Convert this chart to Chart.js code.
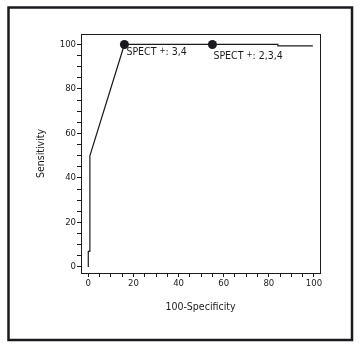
<!DOCTYPE html>
<html>
<head>
<meta charset="utf-8">
<title>ROC curve</title>
<script src="https://cdn.jsdelivr.net/npm/chart.js@4.4.1/dist/chart.umd.min.js"></script>
<style>
  html, body { margin: 0; padding: 0; background: #fff; }
  canvas { display: block; }
</style>
</head>
<body>
<canvas id="graph-roc" width="360" height="347"></canvas>
<script>

// ROC curve.
const specificity = [0, 0, 0.7, 0.7, 16, 55, 84, 84, 99.5];
const sensitivity = [0, 7, 7, 50, 100, 100, 100, 99.4, 99.4];

// Marked thresholds.
const markX = [16, 55];
const markY = [100, 100];
const markLabels = ['3,4', '2,3,4'];

const xTitle = '100-Specificity';
const yTitle = 'Sensitivity';

const ink = '#1c1a1e';
const narrow = "'Liberation Sans Narrow', 'Arial Narrow', 'DejaVu Sans Condensed', sans-serif";


const frame = {
  id: 'frame',
  beforeDraw(chart) {
    /*
     * White page, outer box.
     */
    const ctx = chart.ctx;
    ctx.save();
    ctx.fillStyle = '#fff';
    ctx.fillRect(0, 0, chart.width, chart.height);
    ctx.strokeStyle = ink;
    ctx.lineWidth = 2.5;
    ctx.strokeRect(8.5, 7.5, 343.5, 332.5);
    ctx.restore();
  },
  afterDraw(chart) {
    /*
     * Plot box and the SPECT labels next to the markers.
     */
    const ctx = chart.ctx;
    const area = chart.chartArea;
    const x = chart.scales.x;
    const y = chart.scales.y;
    ctx.save();
    ctx.strokeStyle = ink;
    ctx.lineWidth = 1;
    ctx.strokeRect(area.left + 0.5, area.top + 0.5, area.right - area.left, area.bottom - area.top);

    ctx.fillStyle = ink;
    ctx.textBaseline = 'middle';
    ctx.textAlign = 'left';
    const shifts = [[2, 8], [1, 12]];
    markLabels.forEach((label, i) => {
      let px = x.getPixelForValue(markX[i]) + shifts[i][0];
      const py = y.getPixelForValue(markY[i]) + shifts[i][1];
      ctx.font = '10.5px ' + narrow;
      ctx.fillText('SPECT ', px, py);
      px += ctx.measureText('SPECT ').width;
      ctx.font = '8px ' + narrow;
      ctx.fillText('+', px, py - 2);
      px += ctx.measureText('+').width;
      ctx.font = '10.5px ' + narrow;
      ctx.fillText(': ' + label, px, py);
    });
    ctx.restore();
  }
};


function keepTicks(scale) {
  scale.ticks = scale.ticks.filter((t) => t.value >= 0 && t.value <= 100);
}


const ctx = document.getElementById('graph-roc');
const graph = new Chart(ctx, {
  type: 'scatter',
  data: {
    datasets: [{
      label: 'ROC',
      data: specificity.map((v, i) => ({ x: v, y: sensitivity[i] })),
      showLine: true,
      borderColor: ink,
      borderWidth: 1.2,
      pointRadius: 0,
      fill: false,
    }, {
      label: 'SPECT',
      data: markX.map((v, i) => ({ x: v, y: markY[i] })),
      backgroundColor: ink,
      borderColor: ink,
      pointRadius: 4.5,
      borderWidth: 0,
    }]
  },
  options: {
    responsive: false,
    animation: false,
    devicePixelRatio: 1,
    layout: {
      padding: { left: 0, top: 34, right: 40, bottom: 0 },
    },
    plugins: {
      legend: { display: false },
      tooltip: { enabled: false },
    },
    scales: {
      x: {
        type: 'linear',
        min: -3.23,
        max: 102.66,
        afterFit: (scale) => { scale.height = 74; },
        afterBuildTicks: keepTicks,
        border: { display: true, color: ink, width: 1 },
        grid: { drawOnChartArea: false, color: ink, tickLength: 4, tickWidth: 1 },
        ticks: {
          stepSize: 5,
          includeBounds: false,
          autoSkip: false,
          maxRotation: 0,
          padding: 1,
          color: ink,
          font: { family: narrow, size: 9.5 },
          callback: (value) => (value % 20 === 0 ? value : ''),
        },
        title: {
          display: true,
          text: xTitle,
          color: ink,
          font: { family: narrow, size: 10.5 },
          padding: { top: 0, bottom: 33 },
        },
      },
      y: {
        type: 'linear',
        min: -2.7,
        max: 104.7,
        afterFit: (scale) => { scale.width = 81; },
        afterBuildTicks: keepTicks,
        border: { display: true, color: ink, width: 1 },
        grid: { drawOnChartArea: false, color: ink, tickLength: 4, tickWidth: 1 },
        ticks: {
          stepSize: 5,
          includeBounds: false,
          autoSkip: false,
          padding: 1,
          color: ink,
          font: { family: narrow, size: 9.5 },
          callback: (value) => (value % 20 === 0 ? value : ''),
        },
        title: {
          display: true,
          text: yTitle,
          color: ink,
          font: { family: narrow, size: 10.5 },
          padding: { top: 35, bottom: 0 },
        },
      },
    },
  },
  plugins: [frame],
});

</script>
</body>
</html>
